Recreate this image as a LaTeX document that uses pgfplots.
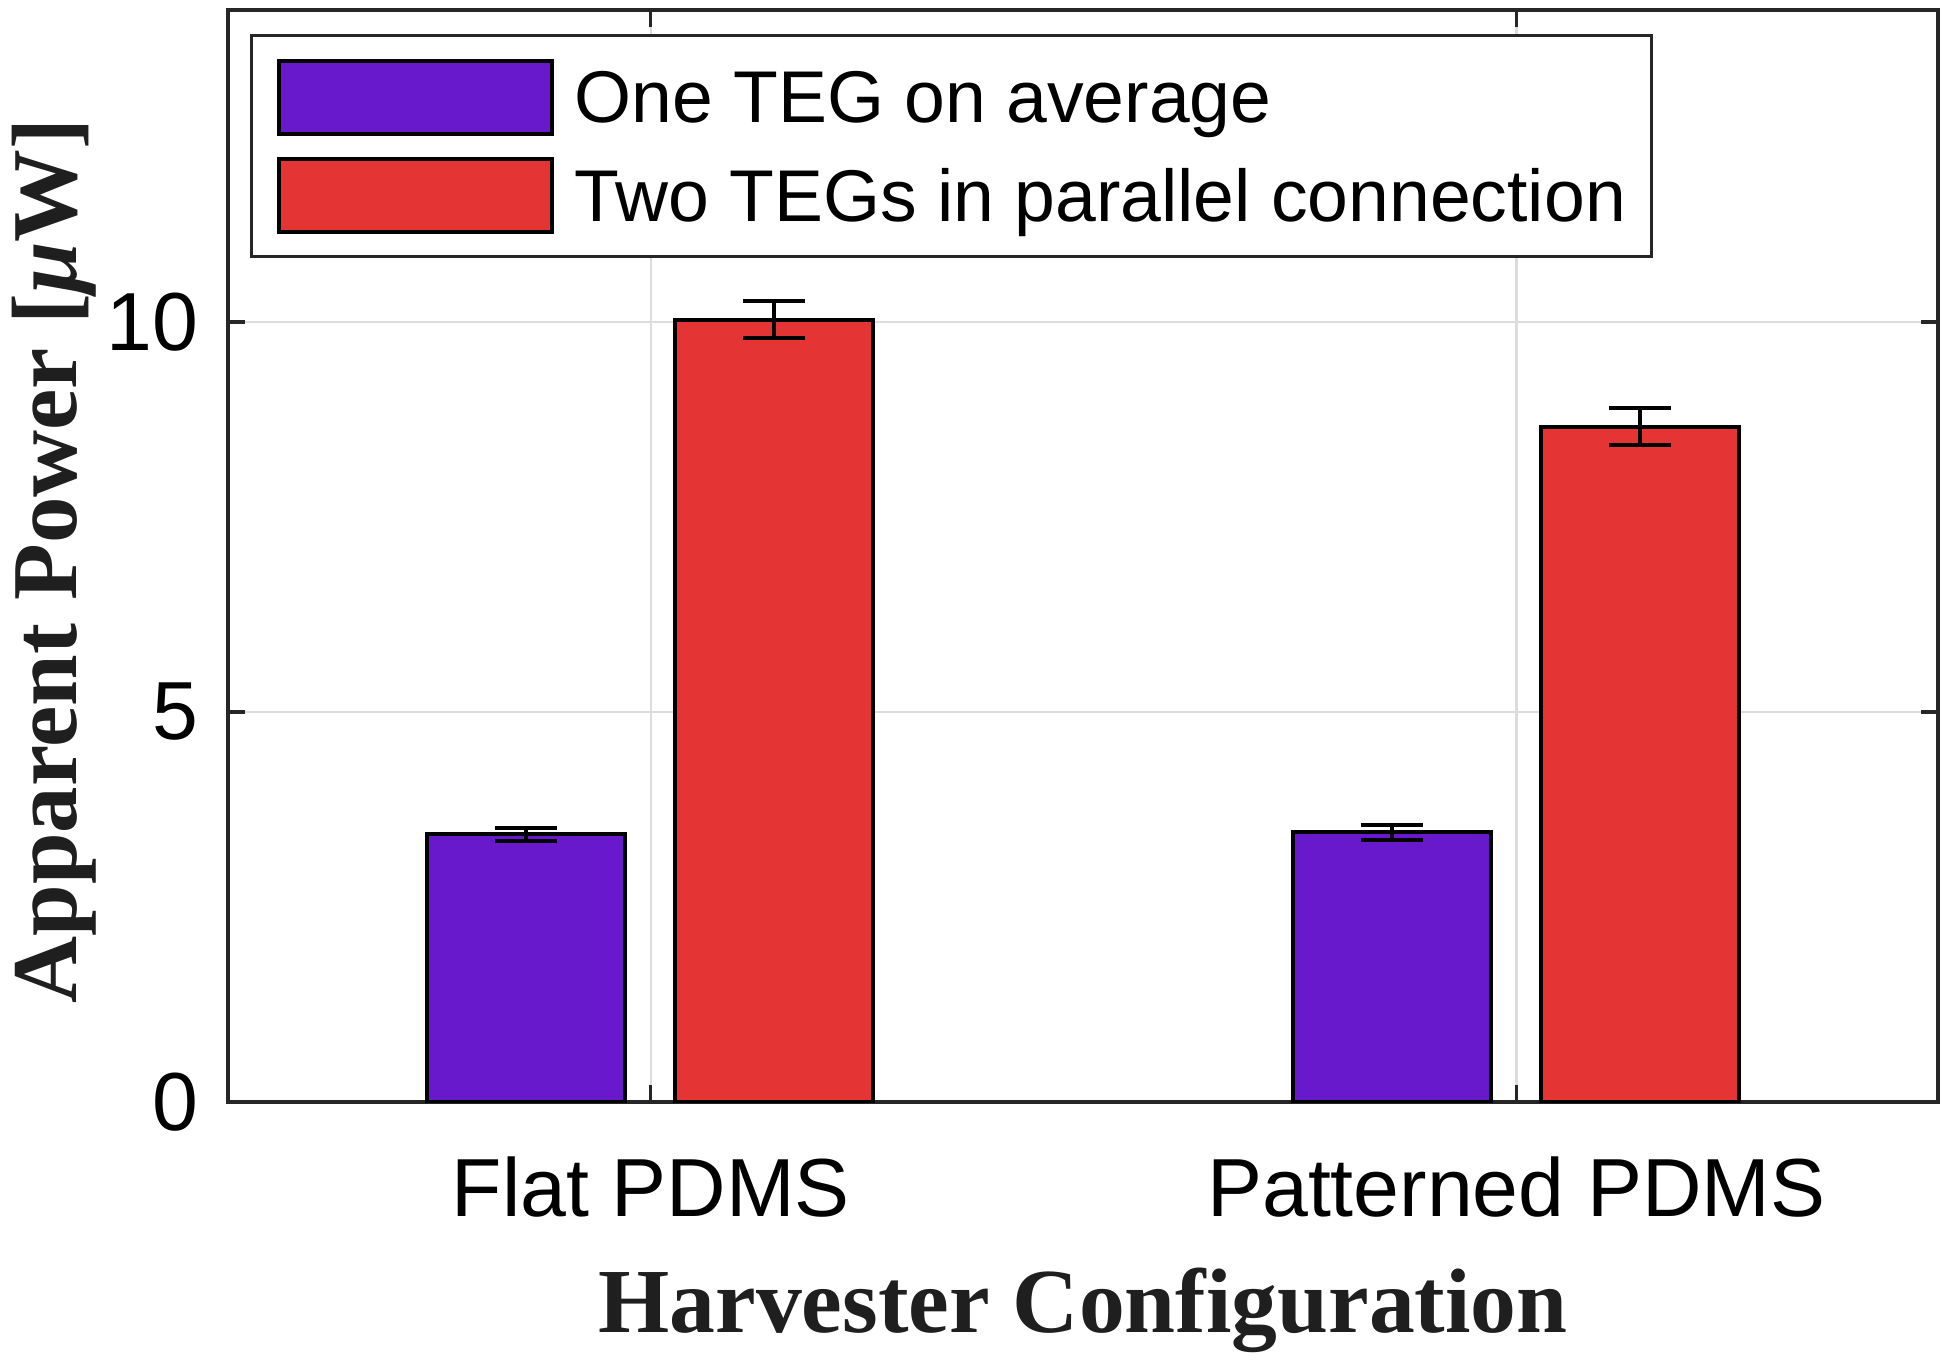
\documentclass[border=0pt]{standalone}
\usepackage{fontspec}
\setmainfont{Liberation Sans}
\newfontfamily\timesfont{Liberation Serif}
\usepackage{pgfplots}
\pgfplotsset{compat=1.18}
\definecolor{cpurple}{RGB}{104,25,204}
\definecolor{cred}{RGB}{228,52,52}
\definecolor{axgray}{RGB}{38,38,38}
\definecolor{gridgray}{RGB}{220,220,220}
\begin{document}
\begin{tikzpicture}
\begin{axis}[
  width=427.5pt, height=273pt, scale only axis,
  ybar, bar width=0.228571, bar shift=0pt,
  xmin=0.5115, xmax=2.4871, ymin=0, ymax=14,
  xtick={1,2}, xticklabels={Flat PDMS, Patterned PDMS},
  ytick={0,5,10},
  tick align=inside, xtick align=inside, ytick align=inside,
  major tick length=4.3pt,
  tick pos=both,
  grid=major, major grid style={gridgray, line width=0.65pt},
  axis line style={axgray, line width=0.8pt},
  tick style={axgray, line width=0.8pt},
  tick label style={font=\fontsize{20.6}{24}\selectfont, text=black},
  /pgf/number format/assume math mode=true,
  xticklabel style={anchor=base, yshift=-28.5pt},
  yticklabel style={anchor=east, inner sep=0pt, xshift=-7.25pt},
  xlabel={\timesfont\bfseries Harvester Configuration},
  xlabel style={at={(axis description cs:0.5,-0.2115)}, anchor=base, inner sep=0pt, text depth=0pt, font=\fontsize{22.9}{27}\selectfont, text=black!88},
  ylabel={\timesfont\bfseries Apparent Power [{\itshape μ}W]},
  ylabel style={at={(axis description cs:-0.0883,0.4954)}, anchor=base, inner sep=0pt, font=\fontsize{23.2}{27}\selectfont, text=black!88},
  legend style={at={(0.0129,0.978)}, anchor=north west, draw=axgray, line width=0.75pt, fill=white,
    inner xsep=6.4pt, inner ysep=5.75pt, row sep=5.3pt, column sep=5.1pt,
    cells={anchor=west}, nodes={inner sep=0pt, text depth=0pt},
    font=\fontsize{18.33}{22}\selectfont},
]
\addplot[fill=cpurple, draw=black, line width=1pt,
  error bars/y dir=both, error bars/y explicit,
  error bars/error bar style={line width=1pt, black},
  error bars/error mark options={line width=1pt, mark size=7.8pt, black, rotate=90},
  legend image code/.code={\draw[fill=cpurple, draw=black, line width=1pt] (0pt,-9.125pt) rectangle (68.25pt,9.125pt);}]
  coordinates {(0.856,3.43) +- (0,0.085) (1.856,3.46) +- (0,0.095)};
\addplot[fill=cred, draw=black, line width=1pt,
  error bars/y dir=both, error bars/y explicit,
  error bars/error bar style={line width=1pt, black},
  error bars/error mark options={line width=1pt, mark size=7.8pt, black, rotate=90},
  legend image code/.code={\draw[fill=cred, draw=black, line width=1pt] (0pt,-9.125pt) rectangle (68.25pt,9.125pt);}]
  coordinates {(1.1425,10.03) +- (0,0.24) (2.1425,8.66) +- (0,0.24)};
\legend{One TEG on average, Two TEGs in parallel connection}
\end{axis}
\path (current axis.south west) ++(-57pt,-64.75pt) rectangle ([shift={(3pt,2.5pt)}]current axis.north east);
\end{tikzpicture}
\end{document}
